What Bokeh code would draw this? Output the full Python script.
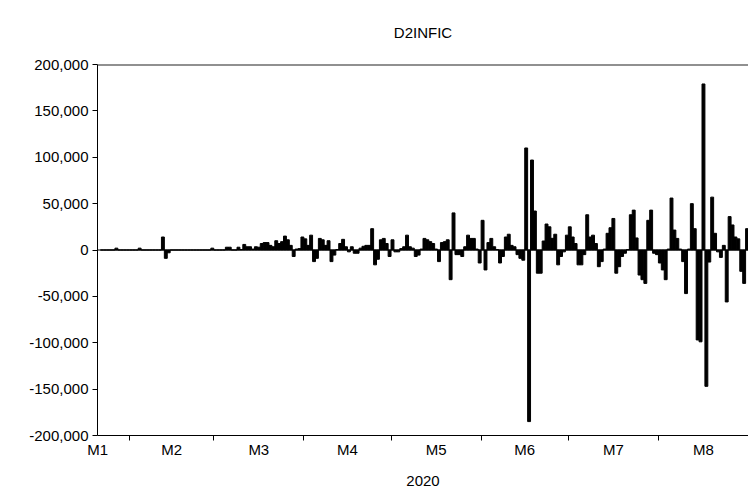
import pandas as pd
from bokeh.plotting import figure
from bokeh.models import FixedTicker, NumeralTickFormatter, Span, Range1d
from bokeh.embed import file_html
from bokeh.resources import INLINE

TITLE = "D2INFIC"
YEAR_LABEL = "2020"
FIRST_DAY = "2020-01-22"
MONTH_LABELS = ["M1", "M2", "M3", "M4", "M5", "M6", "M7", "M8"]
Y_TICKS = [-200000, -150000, -100000, -50000, 0, 50000, 100000, 150000, 200000]

# daily values
JAN = [0, 0, 0, 0, 0, 2000, 0, 0, 0, 0]
FEB = [0, 0, 0, 2000, 0, 0, 0, 0, 0, 0, 0, 14000, -9000, -3000,
       0, 0, 0, 0, 0, 0, 0, 0, 0, 0, 0, 0, 0, 0, 2000]
MAR = [0, 0, 0, 0, 3000, 3000, 0, 0, 3000, 500, 6000, 3500, 3500, 1000, 3500,
       3000, 7000, 8000, 8000, 5000, 3500, 10000, 7000, 9000, 15000, 11000,
       5000, -7000, 1000, 1500, 14000]
APR = [12000, 5000, 16000, -12500, -9000, 12500, 11000, 5000, 10000, -12500,
       -5500, 500, 7000, 11500, 3500, -2000, 3500, -3500, -3500, 2000, 4000,
       5000, 5000, 23000, -16000, -10000, 11000, 12500, 7000, -7000]
MAY = [11000, -2000, -2000, 1500, 3500, 16000, 3500, 2000, -7000, -5500, 1000,
       12500, 11000, 9000, 7000, 1000, -12500, 8000, 9000, 11000, -32000, 40000,
       -5000, -5000, -7000, 3500, 16000, 12500, 12500, 1000, -14000]
JUN = [32000, -21500, 8000, 12500, 3500, 500, -14000, -7000, 14000, 17000, 5000,
       3500, -5000, -9000, -11000, 110000, -185000, 97000, 42000, -25000, -25000,
       9700, 28000, 25000, 12600, 17000, -16000, -7000, -2000, 16000]
JUL = [25000, 14000, 7000, -16000, -16000, -5000, 38000, 14000, 16000, 7000,
       -18000, -12500, 1000, 18000, 24000, 34000, -25000, -18000, -7000, -3500,
       500, 38000, 43000, 13000, -27000, -32000, -36000, 32000, 43000, -3500, -5000]
AUG = [-14000, -21500, -32000, 1000, 56000, 21500, 12500, 1000, -12500, -47000,
       1000, 50000, 23000, -97000, -99000, 179000, -147000, -13000, 57000, 18000,
       -2000, -8000, 5000, -56000, 36000, 27000, 14000, 12000, -23000, -36000, 23000]

VALUES = JAN + FEB + MAR + APR + MAY + JUN + JUL + AUG

DAY = 86400000


def ms(ts):
    return int(pd.Timestamp(ts).value // 1_000_000)


dates = pd.date_range(FIRST_DAY, periods=len(VALUES), freq="D")
xs = [ms(d) + DAY / 2 for d in dates]

x_start = ms(dates[0]) - DAY
x_end = ms(dates[-1]) + DAY

month_starts = pd.date_range("2020-01-01", periods=9, freq="MS")
bounds = [ms(m) for m in month_starts[1:8]]
mids = []
for i in range(8):
    a, b = ms(month_starts[i]), ms(month_starts[i + 1])
    mids.append(max(int((a + b) / 2), x_start + DAY // 24))

p = figure(frame_width=651, frame_height=371, output_backend="svg",
           toolbar_location=None, x_range=Range1d(x_start, x_end),
           y_range=Range1d(-200000, 200000),
           min_border_left=97, min_border_right=0, min_border_top=64,
           min_border_bottom=62)
p.background_fill_color = "white"
p.border_fill_color = "white"
p.outline_line_color = None
p.xgrid.visible = False
p.ygrid.visible = False

p.title.text = TITLE
p.title.align = "center"
p.title.vertical_align = "top"
p.title.text_font = "Liberation Sans"
p.title.text_font_size = "15px"
p.title.text_font_style = "normal"
p.title.text_color = "black"
p.title.standoff = 44

p.vbar(x=xs, top=VALUES, bottom=0, width=DAY, fill_color="black",
       line_color="black", line_width=1)
p.add_layout(Span(location=0, dimension="width", line_color="black",
                  line_width=1))
p.add_layout(Span(location=200000, dimension="width", line_color="#222222",
                  line_width=2))

xa = p.xaxis[0]
xa.ticker = FixedTicker(ticks=mids, minor_ticks=bounds)
xa.major_label_overrides = {m: lab for m, lab in zip(mids, MONTH_LABELS)}
xa.major_tick_line_color = None
xa.major_tick_out = 5
xa.major_tick_in = 0
xa.minor_tick_line_color = "black"
xa.minor_tick_out = 5
xa.minor_tick_in = 0
xa.major_label_standoff = 0
xa.major_label_text_font = "Liberation Sans"
xa.major_label_text_font_size = "15px"
xa.major_label_text_color = "black"
xa.axis_label = YEAR_LABEL
xa.axis_label_text_font = "Liberation Sans"
xa.axis_label_text_font_size = "15px"
xa.axis_label_text_font_style = "normal"
xa.axis_label_text_color = "black"
xa.axis_label_standoff = 15
xa.axis_line_color = "black"

ya = p.yaxis[0]
ya.ticker = FixedTicker(ticks=Y_TICKS)
ya.formatter = NumeralTickFormatter(format="0,0")
ya.major_tick_out = 5
ya.major_tick_in = 0
ya.minor_tick_line_color = None
ya.major_label_standoff = 4
ya.major_label_text_font = "Liberation Sans"
ya.major_label_text_font_size = "15px"
ya.major_label_text_color = "black"
ya.axis_line_color = "black"

open("out.html", "w").write(file_html(p, INLINE))
